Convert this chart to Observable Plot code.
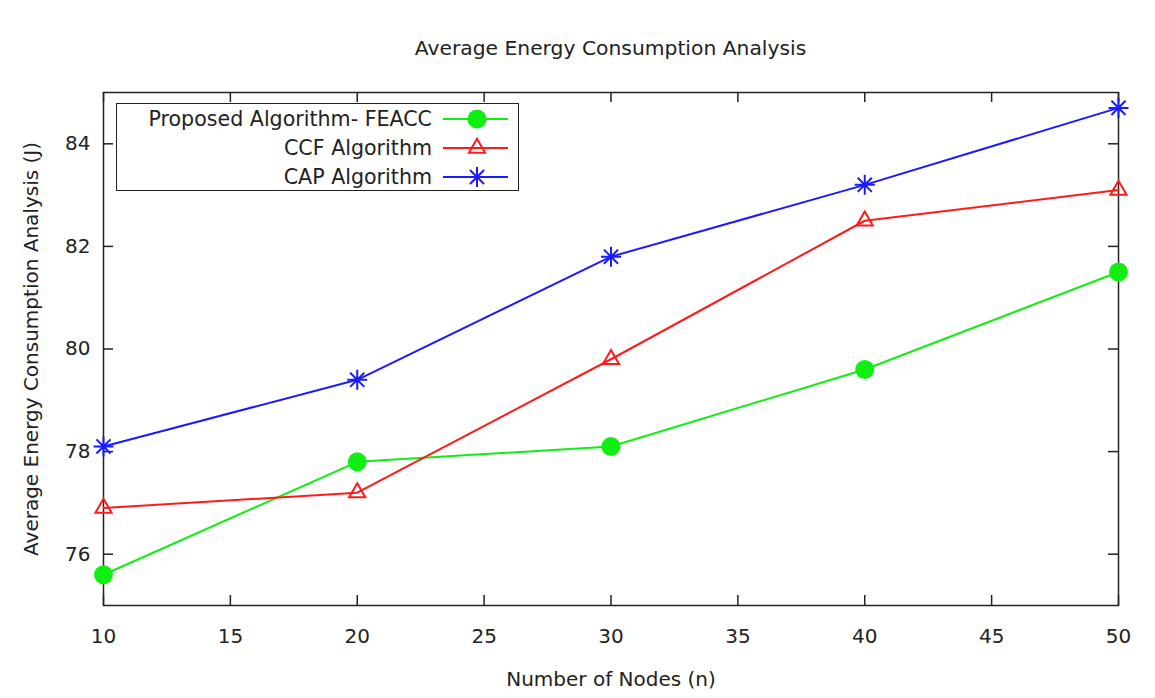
<!DOCTYPE html>
<html><head><meta charset="utf-8">
<script src="https://cdn.jsdelivr.net/npm/d3@7"></script>
<script src="https://cdn.jsdelivr.net/npm/@observablehq/plot@0.6"></script>
<style>
body{margin:0;background:#fff;font-family:"DejaVu Sans",sans-serif;color:#222}
#wrap{position:relative;width:1155px;height:698px;overflow:hidden}
#title{height:60px;position:relative}
#title div{position:absolute;left:103px;width:1015px;top:36px;line-height:24px;text-align:center;font-size:20.3px}
#legend{position:absolute;left:116px;top:103px;width:401px;height:86px;border:1px solid #222;background:#fff}
#legend svg{display:block}
</style></head><body>
<div id="wrap"><div id="title"><div>Average Energy Consumption Analysis</div></div><div id="chart"></div><div id="legend"></div></div>
<script>
const nodes = [10, 20, 30, 40, 50];
const feacc = [75.6, 77.8, 78.1, 79.6, 81.5];
const ccf = [76.9, 77.2, 79.8, 82.5, 83.1];
const cap = [78.1, 79.4, 81.8, 83.2, 84.7];
const seriesNames = ["Proposed Algorithm- FEACC", "CCF Algorithm", "CAP Algorithm"];
const xTicks = [10, 15, 20, 25, 30, 35, 40, 45, 50];
const yTicks = [76, 78, 80, 82, 84];
const title = "Average Energy Consumption Analysis";
const xLabel = "Number of Nodes (n)";
const yLabel = "Average Energy Consumption Analysis (J)";

const asterisk8 = {draw(ctx, size) {
  const r = Math.sqrt(size / Math.PI), d = r * Math.SQRT1_2;
  ctx.moveTo(-r, 0); ctx.lineTo(r, 0);
  ctx.moveTo(0, -r); ctx.lineTo(0, r);
  ctx.moveTo(-d, -d); ctx.lineTo(d, d);
  ctx.moveTo(-d, d); ctx.lineTo(d, -d);
}};

const styles = [
  {color: "#11ee11", symbol: "circle", r: 9.5, fill: true},
  {color: "#ff1a1a", symbol: "triangle", r: 6, fill: false},
  {color: "#1a1aff", symbol: asterisk8, r: 10, fill: false}
];
const valuesList = [feacc, ccf, cap];

const W = 1155, H = 638, mT = 32, mB = 93, mL = 103, mR = 37;
const innerW = W - mL - mR, innerH = H - mT - mB;
const ink = "#222";

const marks = [];
valuesList.forEach((vals, k) => {
  const rows = nodes.map((n, i) => ({x: n, y: vals[i]}));
  marks.push(Plot.line(rows, {x: "x", y: "y", stroke: styles[k].color, strokeWidth: 2}));
});
valuesList.forEach((vals, k) => {
  const rows = nodes.map((n, i) => ({x: n, y: vals[i]}));
  const s = styles[k];
  marks.push(Plot.dot(rows, {x: "x", y: "y", symbol: s.symbol, r: s.r,
    fill: s.fill ? s.color : "none", stroke: s.fill ? "none" : s.color, strokeWidth: 2}));
});

const chart = Plot.plot({
  width: W, height: H, marginTop: mT, marginBottom: mB, marginLeft: mL, marginRight: mR,
  style: {fontFamily: "'DejaVu Sans', sans-serif", fontSize: "20px", color: ink, background: "#fff"},
  x: {domain: [10, 50]},
  y: {domain: [75, 85]},
  marks: [
    Plot.axisX(xTicks, {tickSize: 0, tickPadding: 23, fontSize: 20, tickFormat: d => String(d), label: xLabel, labelAnchor: "center", labelOffset: 80, labelArrow: "none"}),
    Plot.axisY(yTicks, {tickSize: 0, tickPadding: 13, fontSize: 20, tickFormat: d => String(d), label: yLabel, labelAnchor: "center", labelOffset: 80, labelArrow: "none"}),
    Plot.tickX(xTicks, {x: d => d, insetTop: innerH - 10, stroke: ink, strokeWidth: 1.5}),
    Plot.tickX(xTicks, {x: d => d, insetBottom: innerH - 10, stroke: ink, strokeWidth: 1.5}),
    Plot.tickY(yTicks, {y: d => d, insetRight: innerW - 10, stroke: ink, strokeWidth: 1.5}),
    Plot.tickY(yTicks, {y: d => d, insetLeft: innerW - 10, stroke: ink, strokeWidth: 1.5}),
    Plot.frame({stroke: ink, strokeWidth: 1.5}),
    ...marks
  ]
});
document.getElementById("chart").appendChild(chart);
document.querySelector("#title div").textContent = title;

// legend
const lg = d3.select("#legend").append("svg").attr("width", 401).attr("height", 86)
  .style("font-family", "'DejaVu Sans', sans-serif").style("font-size", "20.6px");
seriesNames.forEach((name, k) => {
  const cy = 15 + k * 29;
  const s = styles[k];
  lg.append("text").attr("x", 315).attr("y", cy).attr("text-anchor", "end")
    .attr("dy", "0.35em").attr("fill", ink).text(name);
  lg.append("line").attr("x1", 326).attr("x2", 391).attr("y1", cy).attr("y2", cy)
    .attr("stroke", s.color).attr("stroke-width", 2);
  const type = s.symbol === "circle" ? d3.symbolCircle : s.symbol === "triangle" ? d3.symbolTriangle : s.symbol;
  lg.append("path").attr("transform", `translate(360,${cy})`)
    .attr("d", d3.symbol(type, s.r * s.r * Math.PI)())
    .attr("fill", s.fill ? s.color : "none").attr("stroke", s.fill ? "none" : s.color).attr("stroke-width", 2);
});
</script>
</body></html>
